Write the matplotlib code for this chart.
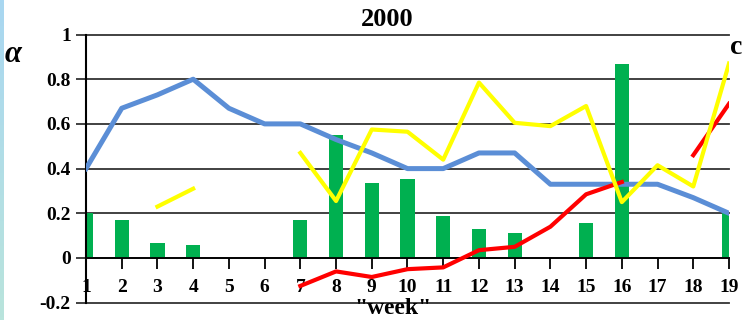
import matplotlib
matplotlib.use("Agg")
import matplotlib.pyplot as plt
import numpy as np
from matplotlib.colors import LinearSegmentedColormap

weeks = list(range(1, 20))
bars = [0.20, 0.17, 0.065, 0.057, np.nan, np.nan, 0.17, 0.55, 0.335, 0.353, 0.19,
        0.13, 0.11, np.nan, 0.155, 0.87, np.nan, np.nan, 0.20]
alpha_line = [0.40, 0.67, 0.73, 0.80, 0.67, 0.60, 0.60, 0.53, 0.47, 0.40, 0.40,
              0.47, 0.47, 0.33, 0.33, 0.33, 0.33, 0.27, 0.20]
yellow = [np.nan, np.nan, 0.23, 0.31, np.nan, np.nan, 0.47, 0.255, 0.575, 0.565, 0.44,
          0.785, 0.605, 0.59, 0.68, 0.25, 0.415, 0.32, 0.87]
red = [np.nan, np.nan, np.nan, np.nan, np.nan, np.nan, -0.125, -0.06, -0.085, -0.05, -0.042,
       0.035, 0.05, 0.14, 0.285, 0.34, np.nan, 0.46, 0.69]
yticks = [-0.2, 0, 0.2, 0.4, 0.6, 0.8, 1]
ytick_labels = ["-0.2", "0", "0.2", "0.4", "0.6", "0.8", "1"]

plt.rcParams['font.family'] = ['Liberation Serif', 'DejaVu Serif']

fig = plt.figure(figsize=(7.43, 3.20), dpi=100)
ax = fig.add_axes([86/743, 1-302.7/320, (729-86)/743, (302.7-34.5)/320])

for s in ['top', 'right']:
    ax.spines[s].set_visible(False)
ax.spines['bottom'].set_position(('data', 0))
ax.spines['bottom'].set_linewidth(1.3)
ax.spines['left'].set_linewidth(1.5)
ax.spines['left'].set_color('black')

ax.set_xlim(1, 19)
ax.set_ylim(-0.2, 1)

ax.bar(weeks, bars, width=0.4, color='#00B050', zorder=2)
ax.plot(weeks, alpha_line, color='#5B8ED6', lw=3.6, zorder=3, solid_joinstyle='round')
ax.plot(weeks, red, color='#FF0000', lw=3.0, zorder=4, solid_joinstyle='round')
ax.plot(weeks, yellow, color='#FFFF00', lw=3.0, zorder=5, solid_joinstyle='round')

ax.set_yticks(yticks)
ax.set_yticklabels(ytick_labels, fontsize=14, fontweight='bold')
ax.tick_params(axis='y', length=7, width=1.3, color='#333333', pad=4)
for yv in yticks:
    ax.axhline(yv, color='#333333', lw=1.3, zorder=0, clip_on=False)
ax.set_xticks(weeks)
ax.set_xticklabels([str(w) for w in weeks], fontsize=14, fontweight='bold')
ax.tick_params(axis='x', length=8, width=1.3, direction='out', pad=7)

fig.text(387/743, 1-20/320, "2000", ha='center', va='center', fontsize=19, fontweight='bold')
fig.text(13/743, 1-54/320, "α", ha='center', va='center', fontsize=22, fontweight='bold', fontstyle='italic')
fig.text(742/743, 1-47/320, "c", ha='right', va='center', fontsize=20, fontweight='bold')
fig.text(393/743, 1-308/320, '"week"', ha='center', va='center', fontsize=17, fontweight='bold')

# left light-blue strip
grad = np.linspace(0, 1, 100).reshape(-1, 1)
sax = fig.add_axes([0, 0, 4/743, 1])
cm = LinearSegmentedColormap.from_list('s', ['#b9e4dc', '#a9d7f1'])
sax.imshow(grad, aspect='auto', cmap=cm, origin='lower')
sax.axis('off')

fig.savefig('out.png', dpi=100)
